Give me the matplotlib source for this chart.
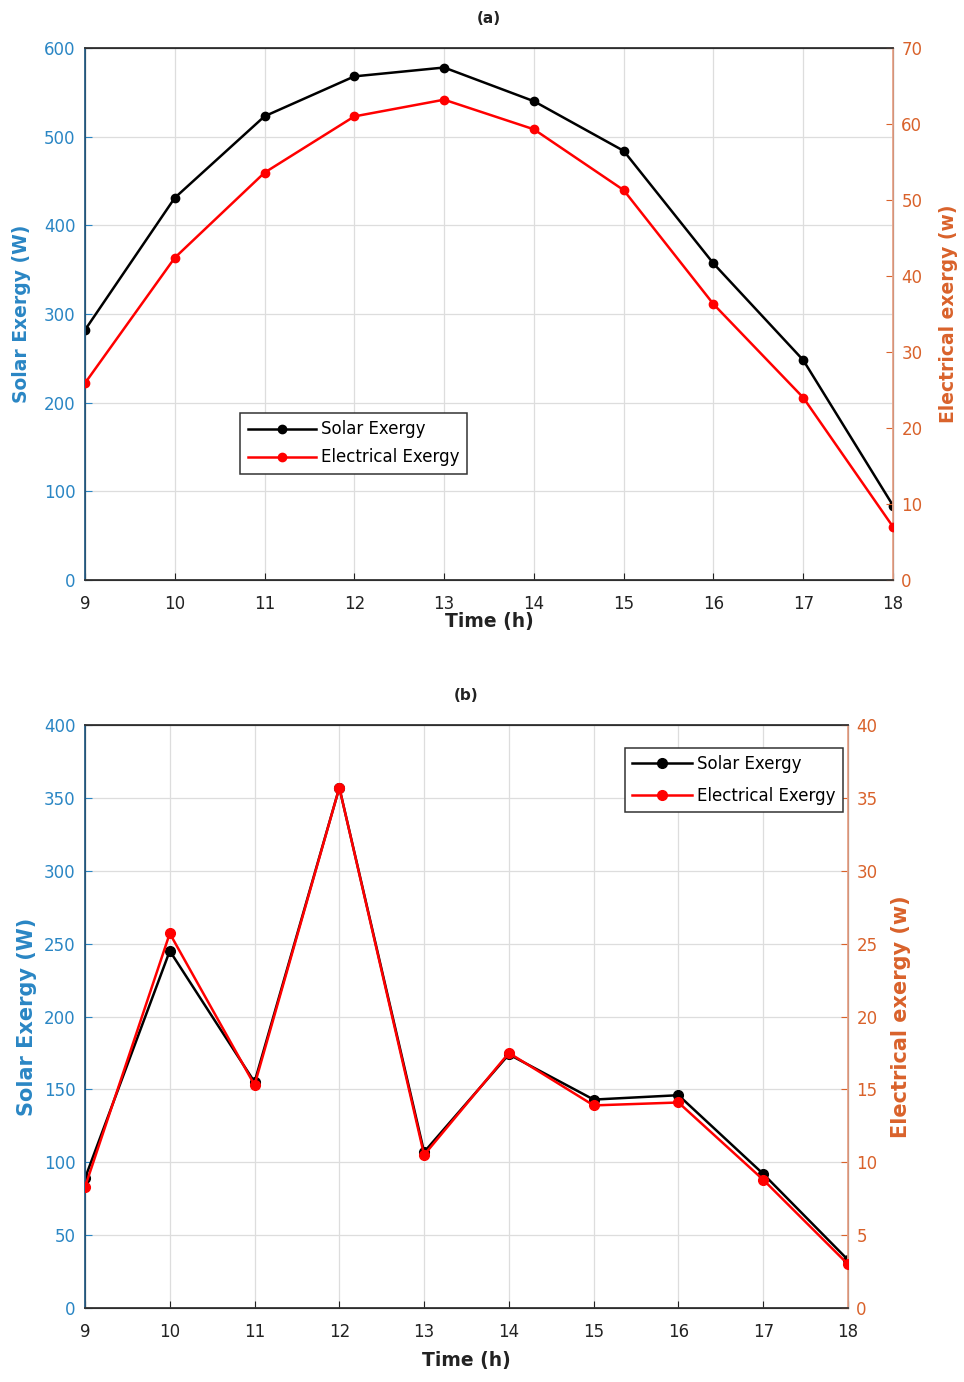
import numpy as np
import matplotlib.pyplot as plt

plt.rcParams['font.family'] = ['DejaVu Sans']

hours = [9, 10, 11, 12, 13, 14, 15, 16, 17, 18]

# (a) clear day
solar_a = [282, 431, 523, 568, 578, 540, 484, 357, 248, 84]
elec_a = [25.9, 42.4, 53.6, 61.0, 63.2, 59.3, 51.3, 36.3, 24.0, 7.0]

# (b) cloudy day
solar_b = [89, 245, 155, 357, 107, 174, 143, 146, 92, 33]
elec_b = [8.3, 25.7, 15.3, 35.7, 10.5, 17.5, 13.9, 14.1, 8.8, 3.0]

blue = '#2a86c4'
orange = '#d9622b'

fig = plt.figure(figsize=(9.64, 13.82), dpi=100)
W, H = 964, 1382


def make_panel(rect, title, solar, elec, y1max, y1step, y2max, y2step,
               leg_loc, leg_anchor, lab_size, xpad, ylpad, yrpad, leg_space, msize, hlen):
    l, t, r, b = rect
    ax = fig.add_axes([l / W, 1 - b / H, (r - l) / W, (b - t) / H])
    ax2 = ax.twinx()
    h1, = ax.plot(hours, solar, color='black', marker='o', markersize=msize, linewidth=1.8,
                  label='Solar Exergy', zorder=3)
    h2, = ax2.plot(hours, elec, color='red', marker='o', markersize=msize, linewidth=1.8,
                   label='Electrical Exergy', zorder=3)
    ax.set_xlim(9, 18)
    ax.set_ylim(0, y1max)
    ax2.set_ylim(0, y2max)
    ax.set_xticks(hours)
    ax.set_yticks(np.arange(0, y1max + 1, y1step))
    ax2.set_yticks(np.arange(0, y2max + 0.1, y2step))
    ax.grid(True, color='#dddddd', linewidth=0.9)
    ax.set_axisbelow(True)

    ax.tick_params(axis='x', direction='in', labelsize=12, colors='#222222', pad=11, length=5)
    ax.tick_params(axis='y', direction='in', labelsize=12, colors=blue, pad=7, length=5)
    ax2.tick_params(axis='y', direction='in', labelsize=12, colors=orange, pad=6, length=5)
    for s in ['top', 'bottom']:
        ax2.spines[s].set_color('#333333')
        ax2.spines[s].set_linewidth(1.3)
    ax2.spines['left'].set_color('#2b5f86')
    ax2.spines['left'].set_linewidth(1.3)
    ax2.spines['right'].set_color('#e9a58a')
    ax2.spines['right'].set_linewidth(1.3)

    ax.set_xlabel('Time (h)', fontsize=13.5, fontweight='bold', color='#222222', labelpad=xpad)
    ax.set_ylabel('Solar Exergy (W)', fontsize=lab_size, fontweight='bold', color=blue,
                  labelpad=ylpad)
    ax2.set_ylabel('Electrical exergy (w)', fontsize=lab_size, fontweight='bold', color=orange,
                   labelpad=yrpad)
    ax.set_title(title, fontsize=11, fontweight='bold', color='#222222', pad=18)

    leg = ax2.legend(handles=[h1, h2], loc=leg_loc, bbox_to_anchor=leg_anchor, fontsize=12,
                     frameon=True, fancybox=False, edgecolor='#333333', framealpha=1,
                     handlelength=hlen, borderaxespad=0, handletextpad=0.3,
                     labelspacing=leg_space, borderpad=0.45)
    leg.get_frame().set_linewidth(1.1)
    return ax, ax2


make_panel((85, 48, 893, 580), '(a)', solar_a, elec_a, 600, 100, 70, 10,
           'upper left', (0.192, 0.314), 13.5, -1, 9, 12, 0.6, 6, 4.1)
make_panel((85, 725, 848, 1308), '(b)', solar_b, elec_b, 400, 50, 40, 5,
           'upper right', (0.994, 0.961), 15, 7, 5, 10, 0.8, 7, 3.6)

plt.savefig('out.png', dpi=100)
